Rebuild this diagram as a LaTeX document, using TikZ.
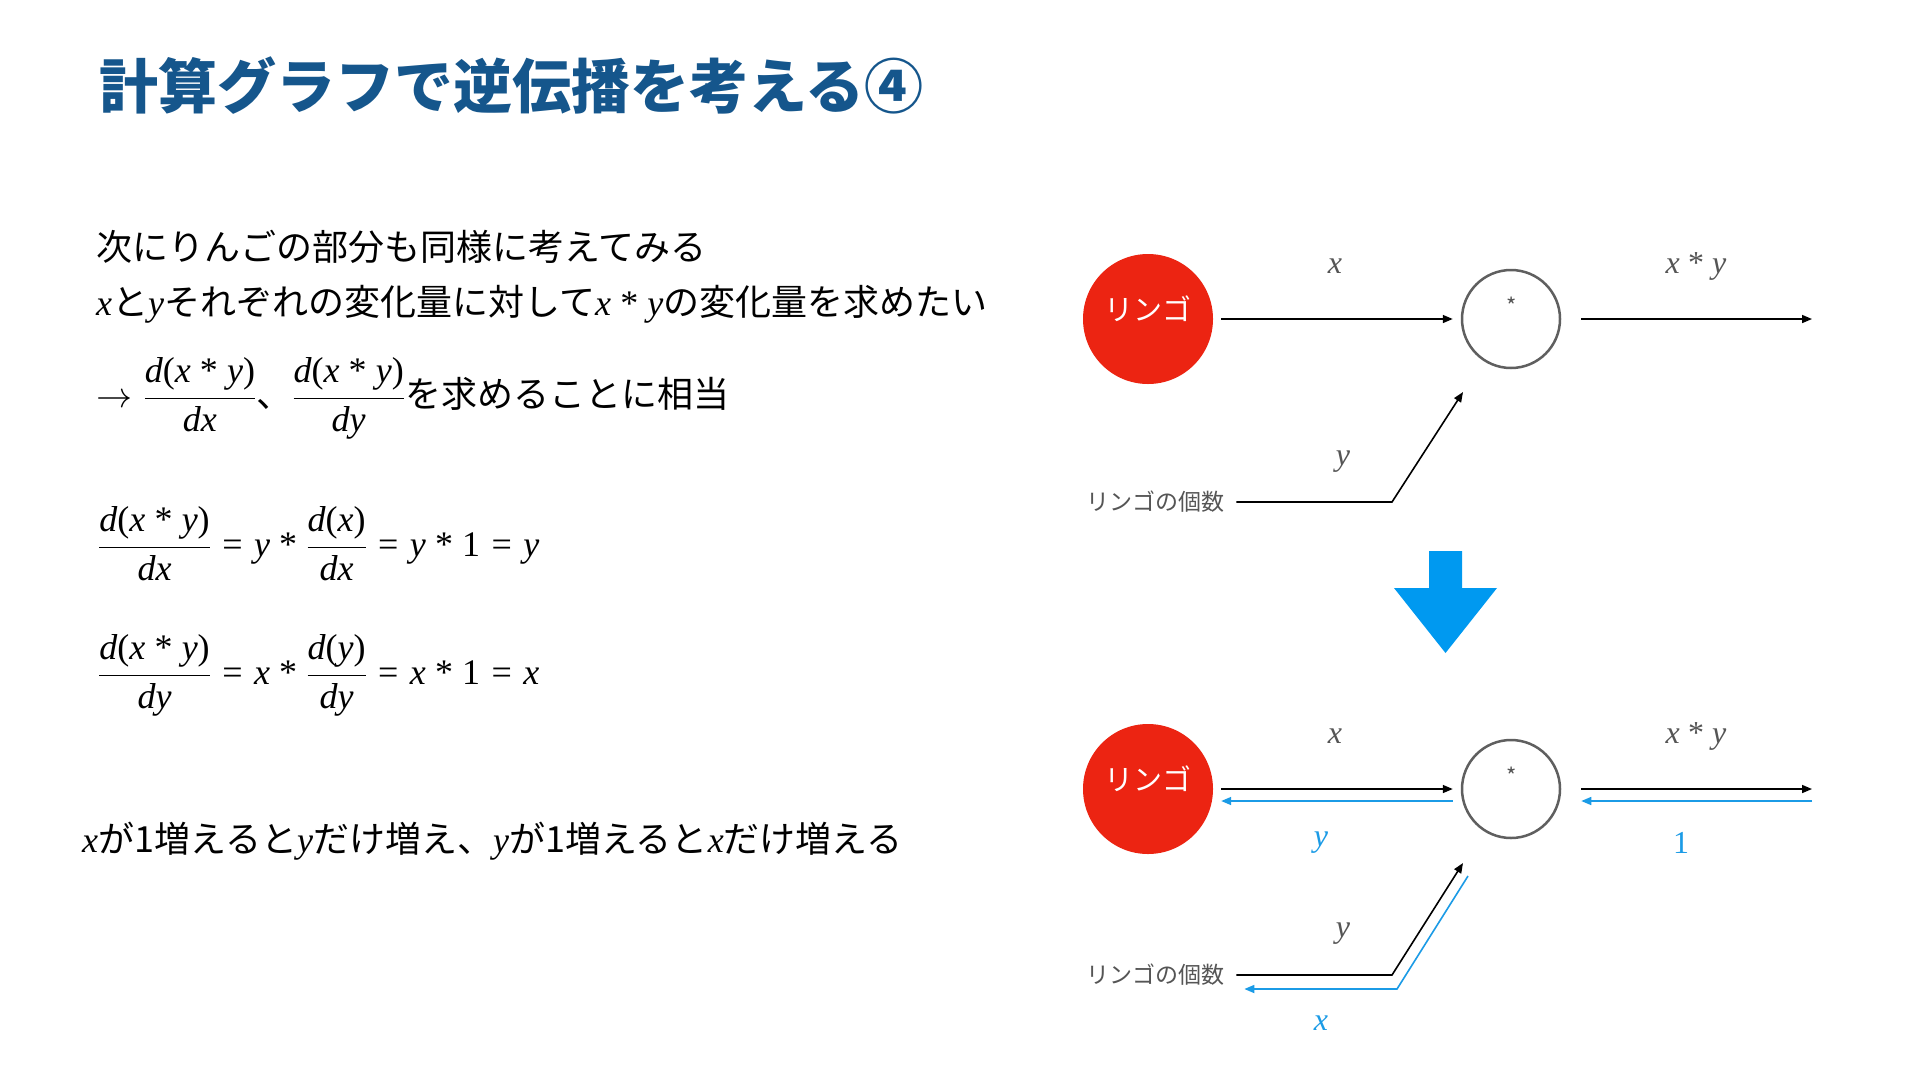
\RequirePackage{fix-cm}
\documentclass[tikz,border=0pt]{standalone}
\usepackage{amsmath}
\usepackage{fontspec}
\setmainfont{Noto Sans CJK JP}
\newfontfamily\tms{Liberation Serif}
\newcommand\tvi[1]{\mbox{\tms\itshape #1}}
\newcommand\tvr[1]{\mbox{\tms #1}}
\newcommand\tmul{\mathbin{\tvr{*}}}
\newcommand\teq{\mathrel{\tvr{=}}}
\medmuskip=4.6mu plus 2mu minus 4mu
\thickmuskip=5.7mu plus 5mu
\usetikzlibrary{arrows.meta}
\definecolor{ttl}{RGB}{21,86,140}
\definecolor{appred}{RGB}{236,36,18}
\definecolor{bblue}{RGB}{27,155,230}
\definecolor{bigblue}{RGB}{0,153,240}
\definecolor{lgray}{RGB}{85,85,85}
\definecolor{cgray}{RGB}{95,95,95}
\tikzset{
  body/.style={anchor=base west, inner sep=0pt, text=black, font=\fontsize{36}{43}\selectfont},
  apple/.style={circle, fill=appred, minimum size=130pt, inner sep=0pt, text=white, text height=20pt, text depth=18pt, font=\fontsize{29}{34}\selectfont},
  opnode/.style={circle, draw=cgray, line width=2.5pt, minimum size=98pt, inner sep=0pt},
  star/.style={inner sep=0pt, text=lgray, font=\fontsize{22}{26}\selectfont},
  lbl/.style={inner sep=0pt, text=lgray, font=\fontsize{32}{38}\selectfont},
  blbl/.style={inner sep=0pt, text=bblue, font=\fontsize{32}{38}\selectfont},
  cnt/.style={anchor=west, inner sep=0pt, text=lgray, font=\fontsize{23}{28}\selectfont},
  fw/.style={line width=1.6pt, draw=black, -{Triangle[length=10pt,width=8pt]}},
  bw/.style={line width=1.6pt, draw=bblue, -{Triangle[length=10pt,width=8pt]}}
}
\begin{document}
\begin{tikzpicture}[x=1pt,y=-1pt]
\useasboundingbox (0,0) rectangle (1920,1080);
\fill[white] (0,0) rectangle (1920,1080);

% title
\node[anchor=base west, inner sep=0pt, text=ttl, font=\fontsize{59}{67}\selectfont\bfseries] (title) at (99,108) {計算グラフで逆伝播を考える④};

% left text
\node[body] (l1) at (96,260) {次にりんごの部分も同様に考えてみる};
\node[body] (l2) at (96,315) {\tvi{x}と\tvi{y}それぞれの変化量に対して$\tvi{x}\tmul\tvi{y}$の変化量を求めたい};
\node[body] (l3) at (96,407) {$\rightarrow\displaystyle\frac{\tvi{d}\tvr{(}\tvi{x}\tmul\tvi{y}\tvr{)}}{\tvi{dx}}$、$\displaystyle\frac{\tvi{d}\tvr{(}\tvi{x}\tmul\tvi{y}\tvr{)}}{\tvi{dy}}$を求めることに相当};
\node[body] (e1) at (98,556) {$\displaystyle\frac{\tvi{d}\tvr{(}\tvi{x}\tmul\tvi{y}\tvr{)}}{\tvi{dx}}\teq\tvi{y}\tmul\frac{\tvi{d}\tvr{(}\tvi{x}\tvr{)}}{\tvi{dx}}\teq\tvi{y}\tmul\tvr{1}\teq\tvi{y}$};
\node[body] (e2) at (98,684) {$\displaystyle\frac{\tvi{d}\tvr{(}\tvi{x}\tmul\tvi{y}\tvr{)}}{\tvi{dy}}\teq\tvi{x}\tmul\frac{\tvi{d}\tvr{(}\tvi{y}\tvr{)}}{\tvi{dy}}\teq\tvi{x}\tmul\tvr{1}\teq\tvi{x}$};
\node[body] (l4) at (82,852) {\tvi{x}が1増えると\tvi{y}だけ増え、\tvi{y}が1増えると\tvi{x}だけ増える};

% ---------- top graph ----------
\node[apple] (r1) at (1148,319) {リンゴ};
\node[opnode] (m1) at (1511,319) {};
\node[star] (s1) at (1512,306) {*};
\coordinate (o1) at (1812,319);
\draw[fw, shorten <=8pt, shorten >=8pt] (r1) -- (m1);
\draw[fw, shorten <=20pt] (m1) -- (o1);
\node[lbl] (x1) at (1335,266) {\tvi{x}};
\node[lbl] (xy1) at (1696,266) {$\tvi{x}\tmul\tvi{y}$};
\node[cnt] (n1) at (1086,502) {リンゴの個数};
\coordinate (k1) at (1392,502);
\coordinate (t1) at (1463,392);
\draw[fw, shorten <=12pt] (n1.east) -- (k1) -- (t1);
\node[lbl] (y1) at (1343,462) {\tvi{y}};

% big arrow
\fill[bigblue] (1429,551) -- (1462,551) -- (1462,588) -- (1497,588) -- (1445.5,653) -- (1394,588) -- (1429,588) -- cycle;

% ---------- bottom graph ----------
\node[apple] (r2) at (1148,789) {リンゴ};
\node[opnode] (m2) at (1511,789) {};
\node[star] (s2) at (1512,776) {*};
\coordinate (o2) at (1812,789);
\draw[fw, shorten <=8pt, shorten >=8pt] (r2) -- (m2);
\draw[fw, shorten <=20pt] (m2) -- (o2);
\draw[bw] ([shift={(-8pt,-12pt)}]m2.west) -- ([shift={(8pt,-12pt)}]r2.east);
\draw[bw] ([yshift=-12pt]o2) -- ([shift={(20pt,-12pt)}]m2.east);
\node[lbl] (x2) at (1335,736) {\tvi{x}};
\node[lbl] (xy2) at (1696,736) {$\tvi{x}\tmul\tvi{y}$};
\node[blbl] (by2) at (1321,843) {\tvi{y}};
\node[blbl] (b12) at (1681,843) {\tvr{1}};
\node[cnt] (n2) at (1086,975) {リンゴの個数};
\coordinate (k2) at (1392,975);
\coordinate (t2) at (1463,863);
\draw[fw, shorten <=12pt] (n2.east) -- (k2) -- (t2);
\coordinate (bs2) at (1468,876);
\coordinate (bk2) at (1397,989);
\draw[bw] (bs2) -- (bk2) -- ([shift={(20pt,-14pt)}]n2.east);
\node[lbl] (y2) at (1343,934) {\tvi{y}};
\node[blbl] (bx2) at (1321,1023) {\tvi{x}};
\end{tikzpicture}
\end{document}
